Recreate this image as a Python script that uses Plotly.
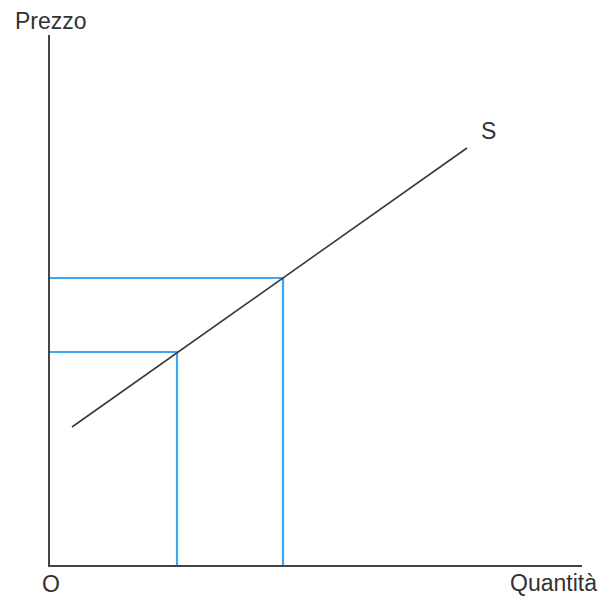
import plotly.graph_objects as go

# Supply curve S (quantity, price) in arbitrary units
supply_q = [2.2, 41.7]
supply_p = [13.8, 41.7]

# Two points on the supply curve
points_q = [12.7, 23.3]
points_p = [21.3, 28.7]

x_max = 53.2
y_max = 53.0

axis_color = "#444444"
blue = "#3ea6f2"
font_family = "Liberation Sans, Arial, sans-serif"

fig = go.Figure()

for q, p in zip(points_q, points_p):
    fig.add_trace(go.Scatter(x=[0, q, q], y=[p, p, 0], mode="lines",
                             line=dict(color=blue, width=2.2), hoverinfo="skip",
                             showlegend=False, cliponaxis=False))

fig.add_trace(go.Scatter(x=supply_q, y=supply_p, mode="lines",
                         line=dict(color="#3a3a3a", width=1.6), showlegend=False))

# label positions in paper units (plot area spans 532 x 530 px)
def px(xp):
    return (xp - 50) / 532

def py(yp):
    return (565 - yp) / 530

labels = [
    dict(text="Prezzo", x=px(51), y=py(21)),
    dict(text="O", x=px(51), y=py(584)),
    dict(text="Quantità", x=px(553), y=py(583)),
    dict(text="S", x=px(488), y=py(131)),
]
for lb in labels:
    fig.add_annotation(text=lb["text"], x=lb["x"], y=lb["y"], xref="paper", yref="paper",
                       showarrow=False, xanchor="center", yanchor="middle",
                       font=dict(family=font_family, size=23, color="#333333"))

fig.update_xaxes(range=[0, x_max], showgrid=False, zeroline=False, showticklabels=False,
                 ticks="", showline=True, linecolor=axis_color, linewidth=2)
fig.update_yaxes(range=[0, y_max], showgrid=False, zeroline=False, showticklabels=False,
                 ticks="", showline=True, linecolor=axis_color, linewidth=2)

fig.update_layout(width=598, height=596, margin=dict(l=50, r=16, t=35, b=31),
                  plot_bgcolor="white", paper_bgcolor="white")

fig.write_html("out.html", config={"displayModeBar": False},
               post_script="document.body.style.margin='0';"
                           "document.documentElement.style.overflow='hidden';"
                           "document.body.style.overflow='hidden';")
